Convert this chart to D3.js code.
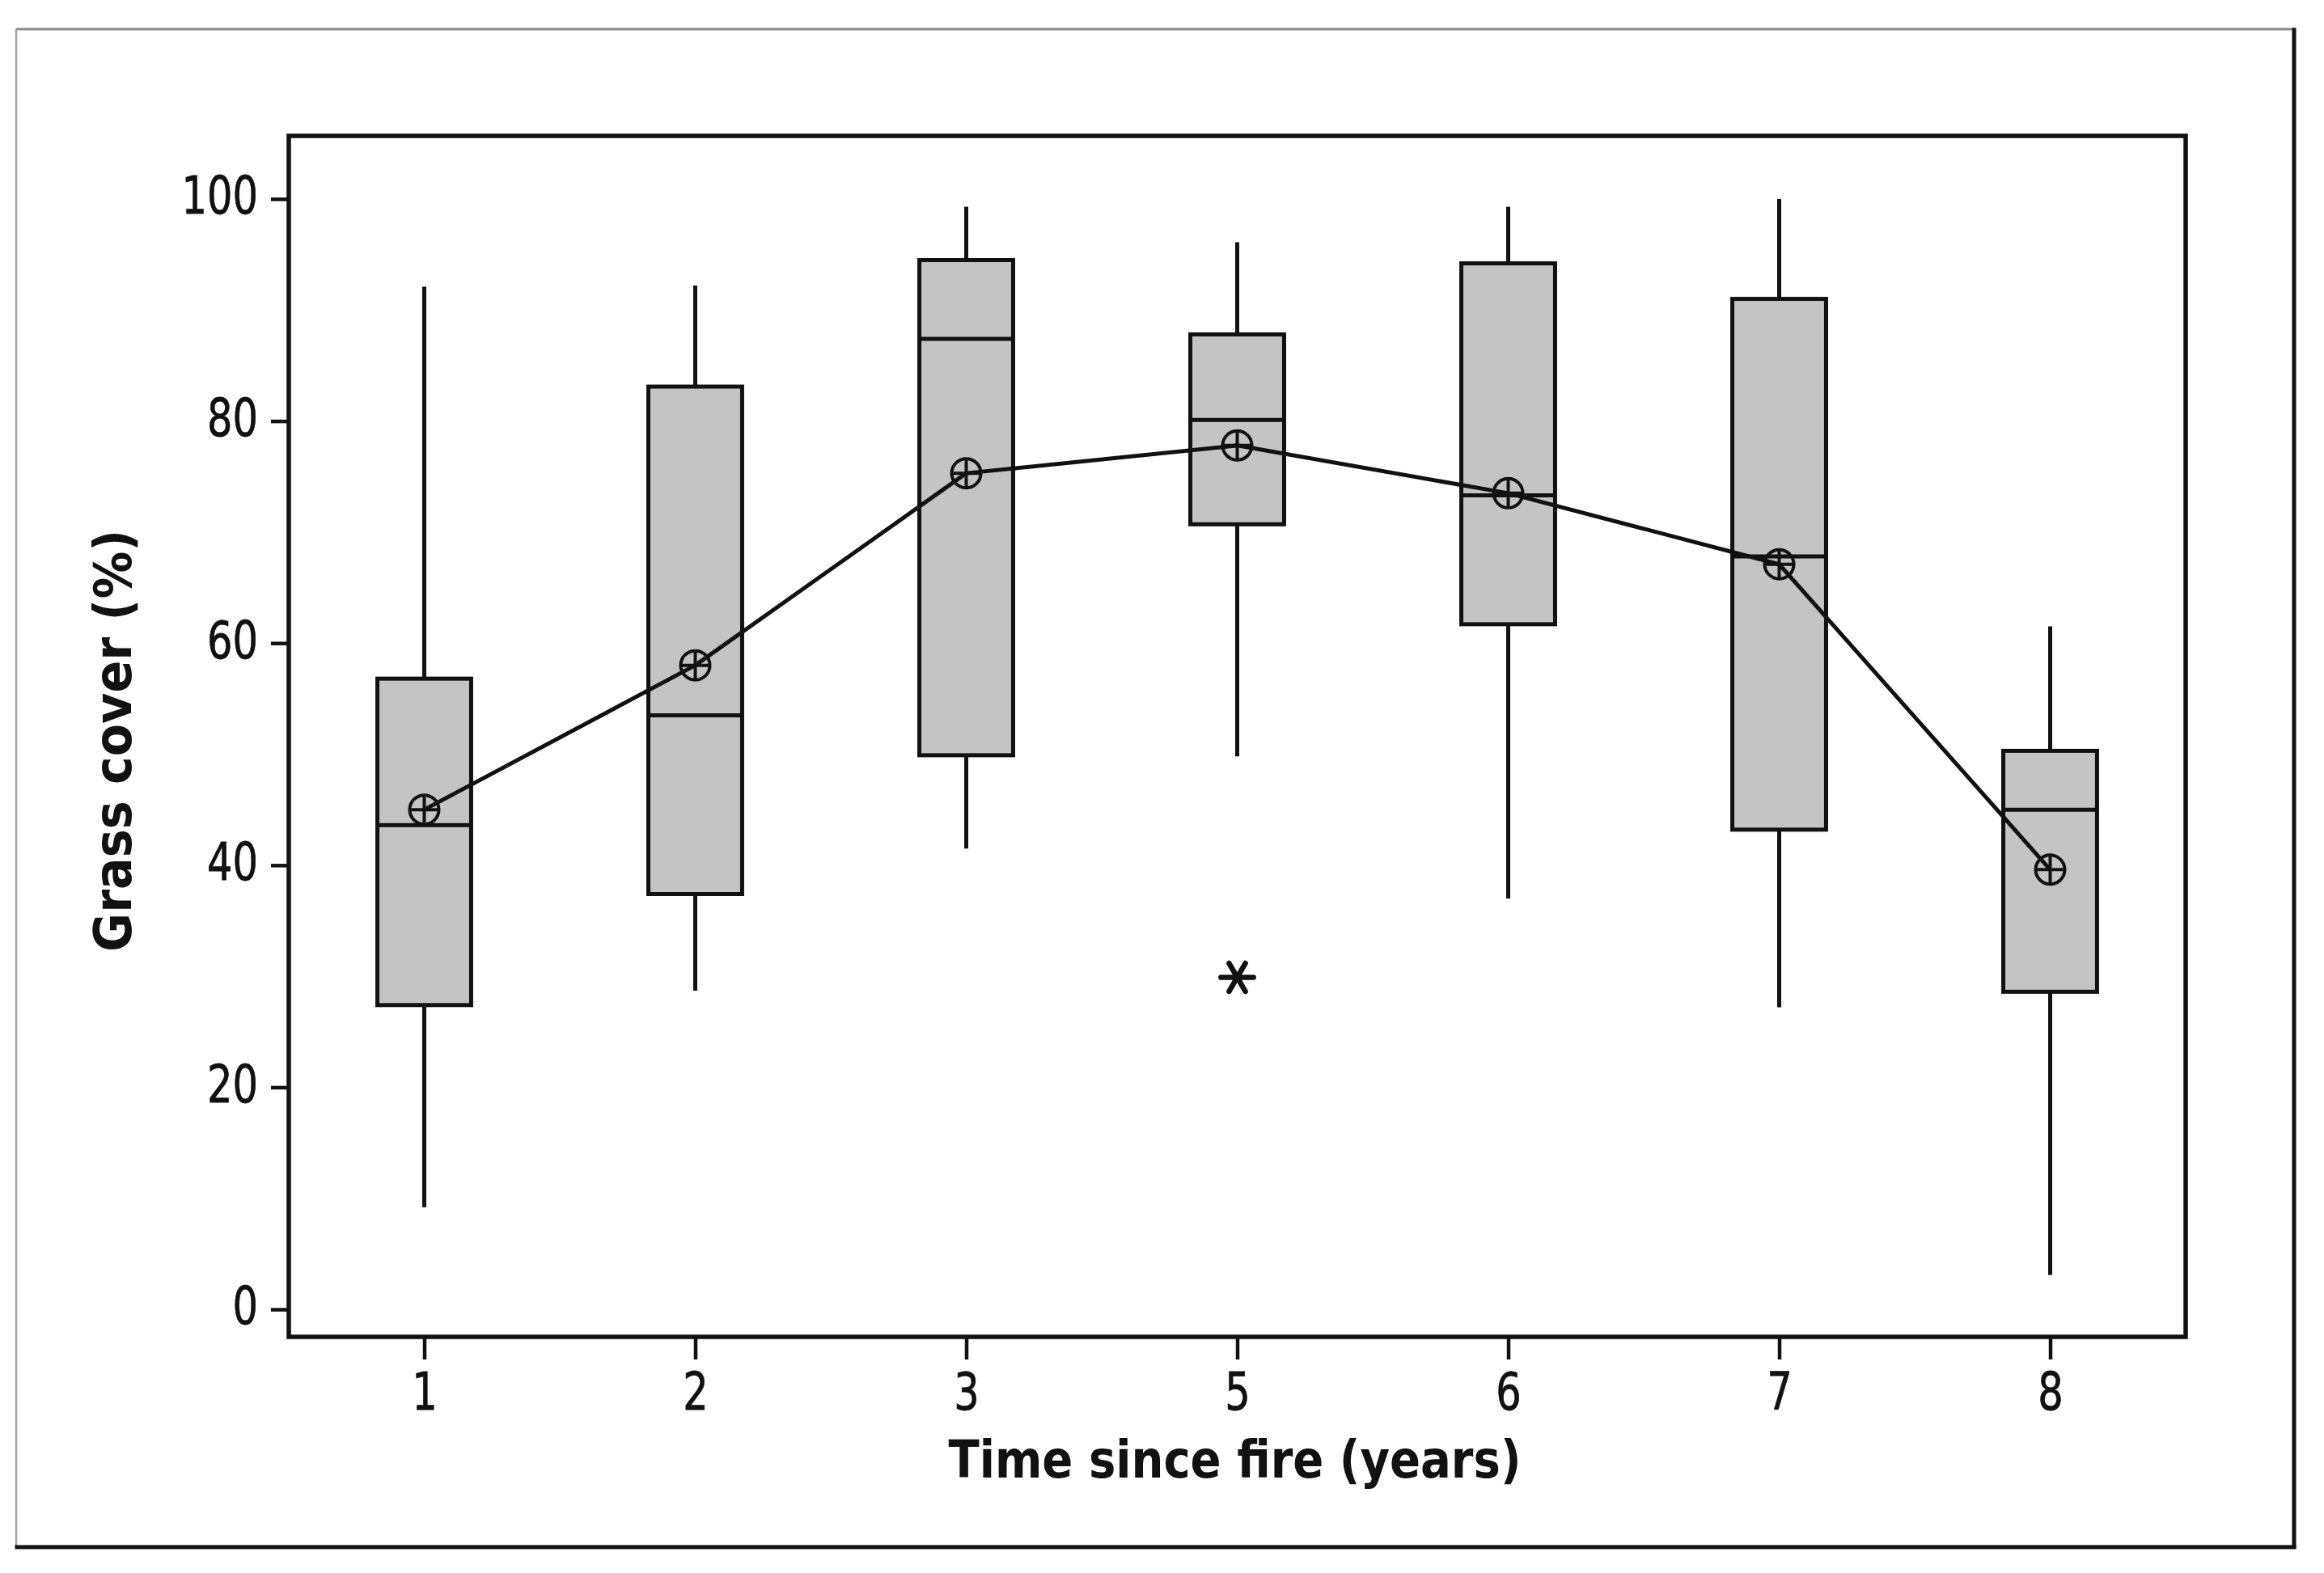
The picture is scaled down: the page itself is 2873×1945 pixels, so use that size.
<!DOCTYPE html>
<html>
<head>
<meta charset="utf-8">
<script src="https://cdn.jsdelivr.net/npm/d3@7"></script>
<style>
  html, body { margin: 0; padding: 0; background: #ffffff; }
  svg { display: block; }
</style>
</head>
<body>
<script>
// ---- Data ----
const categories  = ["1", "2", "3", "5", "6", "7", "8"];
const whiskerLow  = [9.2, 28.7, 41.5, 49.8, 37.0, 27.2, 3.1];
const q1          = [27.4, 37.4, 49.9, 70.7, 61.7, 43.2, 28.6];
const median      = [43.6, 53.5, 87.4, 80.1, 73.3, 67.8, 45.0];
const q3          = [56.8, 83.1, 94.5, 87.8, 94.2, 91.0, 50.3];
const whiskerHigh = [92.1, 92.2, 99.3, 96.1, 99.3, 100.0, 61.5];
const means       = [45.0, 58.0, 75.3, 77.8, 73.5, 67.1, 39.6];
const outlierCats = ["5"];
const outlierVals = [29.9];
const yTicks      = [0, 20, 40, 60, 80, 100];
const xTitle = "Time since fire (years)";
const yTitle = "Grass cover (%)";

// ---- Layout ----
const W = 2873, H = 1945;
const plot = { left: 357, right: 2702, top: 168, bottom: 1653 };
const FONT = "'DejaVu Sans', Verdana, sans-serif";

const svg = d3.select("body").append("svg")
  .attr("width", W).attr("height", H)
  .attr("viewBox", `0 0 ${W} ${H}`);

svg.append("rect").attr("width", W).attr("height", H).attr("fill", "#ffffff");

// Outer frame: light top/left, dark right/bottom
svg.append("line").attr("x1", 20).attr("y1", 36).attr("x2", 2836).attr("y2", 36)
  .attr("stroke", "#8c8c8c").attr("stroke-width", 3);
svg.append("line").attr("x1", 20).attr("y1", 36).attr("x2", 20).attr("y2", 1913)
  .attr("stroke", "#a0a0a0").attr("stroke-width", 2.5);
svg.append("line").attr("x1", 2836).attr("y1", 34.5).attr("x2", 2836).attr("y2", 1915)
  .attr("stroke", "#111").attr("stroke-width", 5);
svg.append("line").attr("x1", 18.5).attr("y1", 1913).attr("x2", 2838.5).attr("y2", 1913)
  .attr("stroke", "#111").attr("stroke-width", 5);

// Scales
const x = d3.scalePoint().domain(categories).range([plot.left, plot.right]).padding(0.5);
const y = d3.scaleLinear().domain([0, 100]).range([1619, 246]);
const boxW = x.step() * 0.346;

// Axes
const yAxis = svg.append("g").attr("transform", `translate(${plot.left},0)`)
  .call(d3.axisLeft(y).tickValues(yTicks).tickSize(22).tickSizeOuter(0).tickPadding(16));
yAxis.select(".domain").remove();
yAxis.selectAll(".tick line").attr("stroke", "#111").attr("stroke-width", 4.5);
yAxis.selectAll(".tick text")
  .attr("font-family", FONT).attr("font-size", 64).attr("fill", "#111")
  .attr("dy", "0.28em")
  .attr("stroke", "#111").attr("stroke-width", 0.8)
  .attr("textLength", d => String(d).length * 31.5)
  .attr("lengthAdjust", "spacingAndGlyphs");

const xAxis = svg.append("g").attr("transform", `translate(0,${plot.bottom})`)
  .call(d3.axisBottom(x).tickSize(28).tickSizeOuter(0).tickPadding(17));
xAxis.select(".domain").remove();
xAxis.selectAll(".tick line").attr("stroke", "#111").attr("stroke-width", 4.5);
xAxis.selectAll(".tick text")
  .attr("font-family", FONT).attr("font-size", 64).attr("fill", "#111")
  .attr("stroke", "#111").attr("stroke-width", 0.8)
  .attr("textLength", 31.5)
  .attr("lengthAdjust", "spacingAndGlyphs");

// Box data
const boxes = categories.map((c, i) => ({
  c, lo: whiskerLow[i], q1: q1[i], med: median[i], q3: q3[i], hi: whiskerHigh[i], mean: means[i]
}));

const g = svg.append("g");

// Whiskers
g.selectAll(".wlo").data(boxes).enter().append("line")
  .attr("x1", d => x(d.c)).attr("x2", d => x(d.c))
  .attr("y1", d => y(d.lo)).attr("y2", d => y(d.q1))
  .attr("stroke", "#111").attr("stroke-width", 5);
g.selectAll(".whi").data(boxes).enter().append("line")
  .attr("x1", d => x(d.c)).attr("x2", d => x(d.c))
  .attr("y1", d => y(d.hi)).attr("y2", d => y(d.q3))
  .attr("stroke", "#111").attr("stroke-width", 5);

// Boxes
g.selectAll(".box").data(boxes).enter().append("rect")
  .attr("x", d => x(d.c) - boxW / 2)
  .attr("width", boxW)
  .attr("y", d => y(d.q3))
  .attr("height", d => y(d.q1) - y(d.q3))
  .attr("fill", "#c4c4c4")
  .attr("stroke", "#111").attr("stroke-width", 5);

// Medians
g.selectAll(".med").data(boxes).enter().append("line")
  .attr("x1", d => x(d.c) - boxW / 2).attr("x2", d => x(d.c) + boxW / 2)
  .attr("y1", d => y(d.med)).attr("y2", d => y(d.med))
  .attr("stroke", "#111").attr("stroke-width", 5);

// Mean connect line
const line = d3.line().x(d => x(d.c)).y(d => y(d.mean));
g.append("path").datum(boxes).attr("d", line)
  .attr("fill", "none").attr("stroke", "#111").attr("stroke-width", 5)
  .attr("stroke-linejoin", "round");

// Mean symbols (circle with cross)
const r = 18;
const ms = g.selectAll(".mean").data(boxes).enter().append("g")
  .attr("transform", d => `translate(${x(d.c)},${y(d.mean)})`);
ms.append("circle").attr("r", r).attr("fill", "none")
  .attr("stroke", "#111").attr("stroke-width", 4);
ms.append("line").attr("x1", -r).attr("x2", r).attr("y1", 0).attr("y2", 0)
  .attr("stroke", "#111").attr("stroke-width", 4);
ms.append("line").attr("x1", 0).attr("x2", 0).attr("y1", -r).attr("y2", r)
  .attr("stroke", "#111").attr("stroke-width", 4);

// Outliers (asterisk)
const outliers = outlierCats.map((c, i) => ({ c, v: outlierVals[i] }));
g.selectAll(".out").data(outliers).enter().append("path")
  .attr("transform", d => `translate(${x(d.c)},${y(d.v)}) rotate(90)`)
  .attr("d", d3.symbol().type(d3.symbolAsterisk).size(1150))
  .attr("fill", "none").attr("stroke", "#111").attr("stroke-width", 6.5)
  .attr("stroke-linecap", "round");

// Plot frame
svg.append("rect")
  .attr("x", plot.left).attr("y", plot.top)
  .attr("width", plot.right - plot.left).attr("height", plot.bottom - plot.top)
  .attr("fill", "none").attr("stroke", "#111").attr("stroke-width", 5.5);

// Axis titles
svg.append("text")
  .attr("x", (plot.left + plot.right) / 2 - 3).attr("y", 1827)
  .attr("text-anchor", "middle")
  .attr("font-family", FONT).attr("font-weight", "bold").attr("font-size", 64)
  .attr("fill", "#111")
  .attr("textLength", 708).attr("lengthAdjust", "spacingAndGlyphs")
  .text(xTitle);

svg.append("text")
  .attr("transform", `translate(162,916) rotate(-90)`)
  .attr("text-anchor", "middle")
  .attr("font-family", FONT).attr("font-weight", "bold").attr("font-size", 64)
  .attr("fill", "#111")
  .attr("textLength", 522).attr("lengthAdjust", "spacingAndGlyphs")
  .text(yTitle);
</script>
</body>
</html>
